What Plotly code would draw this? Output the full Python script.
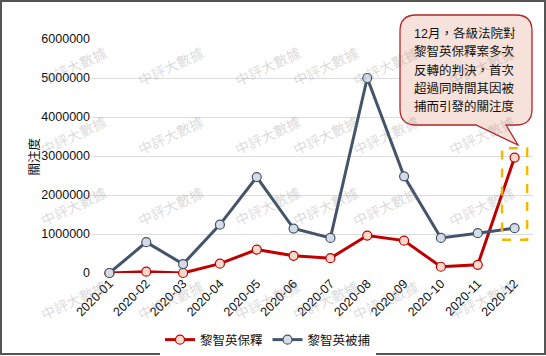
import plotly.graph_objects as go

months = ["2020-01", "2020-02", "2020-03", "2020-04", "2020-05", "2020-06",
          "2020-07", "2020-08", "2020-09", "2020-10", "2020-11", "2020-12"]
bail = [0, 35000, 0, 240000, 600000, 440000, 380000, 960000, 830000, 160000, 210000, 2960000]
arrest = [0, 790000, 230000, 1240000, 2460000, 1140000, 900000, 5000000, 2480000, 900000, 1020000, 1150000]
series_names = ["黎智英保釋", "黎智英被捕"]
y_ticks = [0, 1000000, 2000000, 3000000, 4000000, 5000000, 6000000]
callout_lines = ["12月，各級法院對", "黎智英保釋案多次", "反轉的判決，首次", "超過同時間其因被", "捕而引發的關注度"]
watermark = "中評大數據"

W, H = 546, 356
L, R, T, B = 91, 13, 39, 83
PW, PH = W - L - R, H - T - B

def px(x):
    return (x - L) / PW

def py(y):
    return (H - B - y) / PH

FONT = "Liberation Sans, Arial, Noto Sans CJK TC, sans-serif"

fig = go.Figure()
fig.add_trace(go.Scatter(
    x=months, y=bail, name=series_names[0], mode="lines+markers",
    line=dict(color="#c00000", width=3),
    marker=dict(size=9, color="#fbd8cc", line=dict(color="#c00000", width=1.2)),
    cliponaxis=False,
))
fig.add_trace(go.Scatter(
    x=months, y=arrest, name=series_names[1], mode="lines+markers",
    line=dict(color="#44546a", width=3),
    marker=dict(size=9, color="#d6dce5", line=dict(color="#44546a", width=1.2)),
    cliponaxis=False,
))

shapes = []
# outer frame
shapes.append(dict(type="rect", xref="paper", yref="paper",
                   x0=px(1), x1=px(545), y0=py(1), y1=py(354),
                   line=dict(color="#555555", width=2), layer="above"))
# highlight dashed rectangle around December
last = len(months) - 1
shapes.append(dict(type="rect", xref="x", yref="y",
                   x0=last - 0.34, x1=last + 0.34, y0=850000, y1=3200000,
                   line=dict(color="#f5b800", width=2.5, dash="dash"), layer="above"))

# callout bubble with tail
x0, x1, y0, y1, r = 400, 532, 15, 125, 16
tb0, tb1, tip = (476, 125), (506, 125), (518, 145)
def P(x, y):
    return f"{px(x):.5f},{py(y):.5f}"
path = (f"M {P(x0 + r, y0)} L {P(x1 - r, y0)} Q {P(x1, y0)} {P(x1, y0 + r)} "
        f"L {P(x1, y1 - r)} Q {P(x1, y1)} {P(x1 - r, y1)} "
        f"L {P(*tb1)} L {P(*tip)} L {P(*tb0)} "
        f"L {P(x0 + r, y1)} Q {P(x0, y1)} {P(x0, y1 - r)} "
        f"L {P(x0, y0 + r)} Q {P(x0, y0)} {P(x0 + r, y0)} Z")
shapes.append(dict(type="path", xref="paper", yref="paper", path=path,
                   fillcolor="#f6e2da", line=dict(color="#b3262b", width=1.3), layer="above"))

annotations = []
# watermarks
for wy in [42, 136, 232, 326]:
    for wx in [36, 133, 230, 326, 424, 520]:
        annotations.append(dict(x=px(wx), y=py(wy), xref="paper", yref="paper",
                                text=watermark, showarrow=False, textangle=-25,
                                font=dict(size=14, color="rgba(120,120,120,0.28)", family=FONT)))
# callout text
for i, line in enumerate(callout_lines):
    annotations.append(dict(x=px(412), y=py(33 + i * 18.5), xref="paper", yref="paper",
                            text=line, showarrow=False, xanchor="left", yanchor="middle",
                            font=dict(size=12.5, color="#111111", family=FONT)))
# y axis title
annotations.append(dict(x=px(24), y=py(157), xref="paper", yref="paper",
                        text="關注度", showarrow=False, textangle=-90,
                        font=dict(size=12.5, color="#111111", family=FONT)))

fig.update_layout(
    width=W, height=H,
    margin=dict(l=L, r=R, t=T, b=B, autoexpand=False),
    paper_bgcolor="white", plot_bgcolor="white",
    font=dict(family=FONT, size=12, color="#111111"),
    showlegend=True,
    legend=dict(orientation="h", x=px(268), y=py(340), xanchor="center", yanchor="middle",
                font=dict(size=12.5), itemwidth=30, tracegroupgap=0),
    xaxis=dict(type="category", range=[-0.5, len(months) - 0.5], tickangle=-45,
               showgrid=False, showline=False, ticks="", tickfont=dict(size=12.5),
               automargin=False),
    yaxis=dict(range=[0, 6000000], tickvals=y_ticks, ticktext=[str(v) for v in y_ticks],
               showgrid=True, gridcolor="#dddddd", gridwidth=1, zeroline=False,
               showline=False, ticks="", tickfont=dict(size=12.5), automargin=False),
    shapes=shapes,
    annotations=annotations,
)

fig.write_html("out.html", config={"displayModeBar": False},
               post_script="document.body.style.margin='0px';")
